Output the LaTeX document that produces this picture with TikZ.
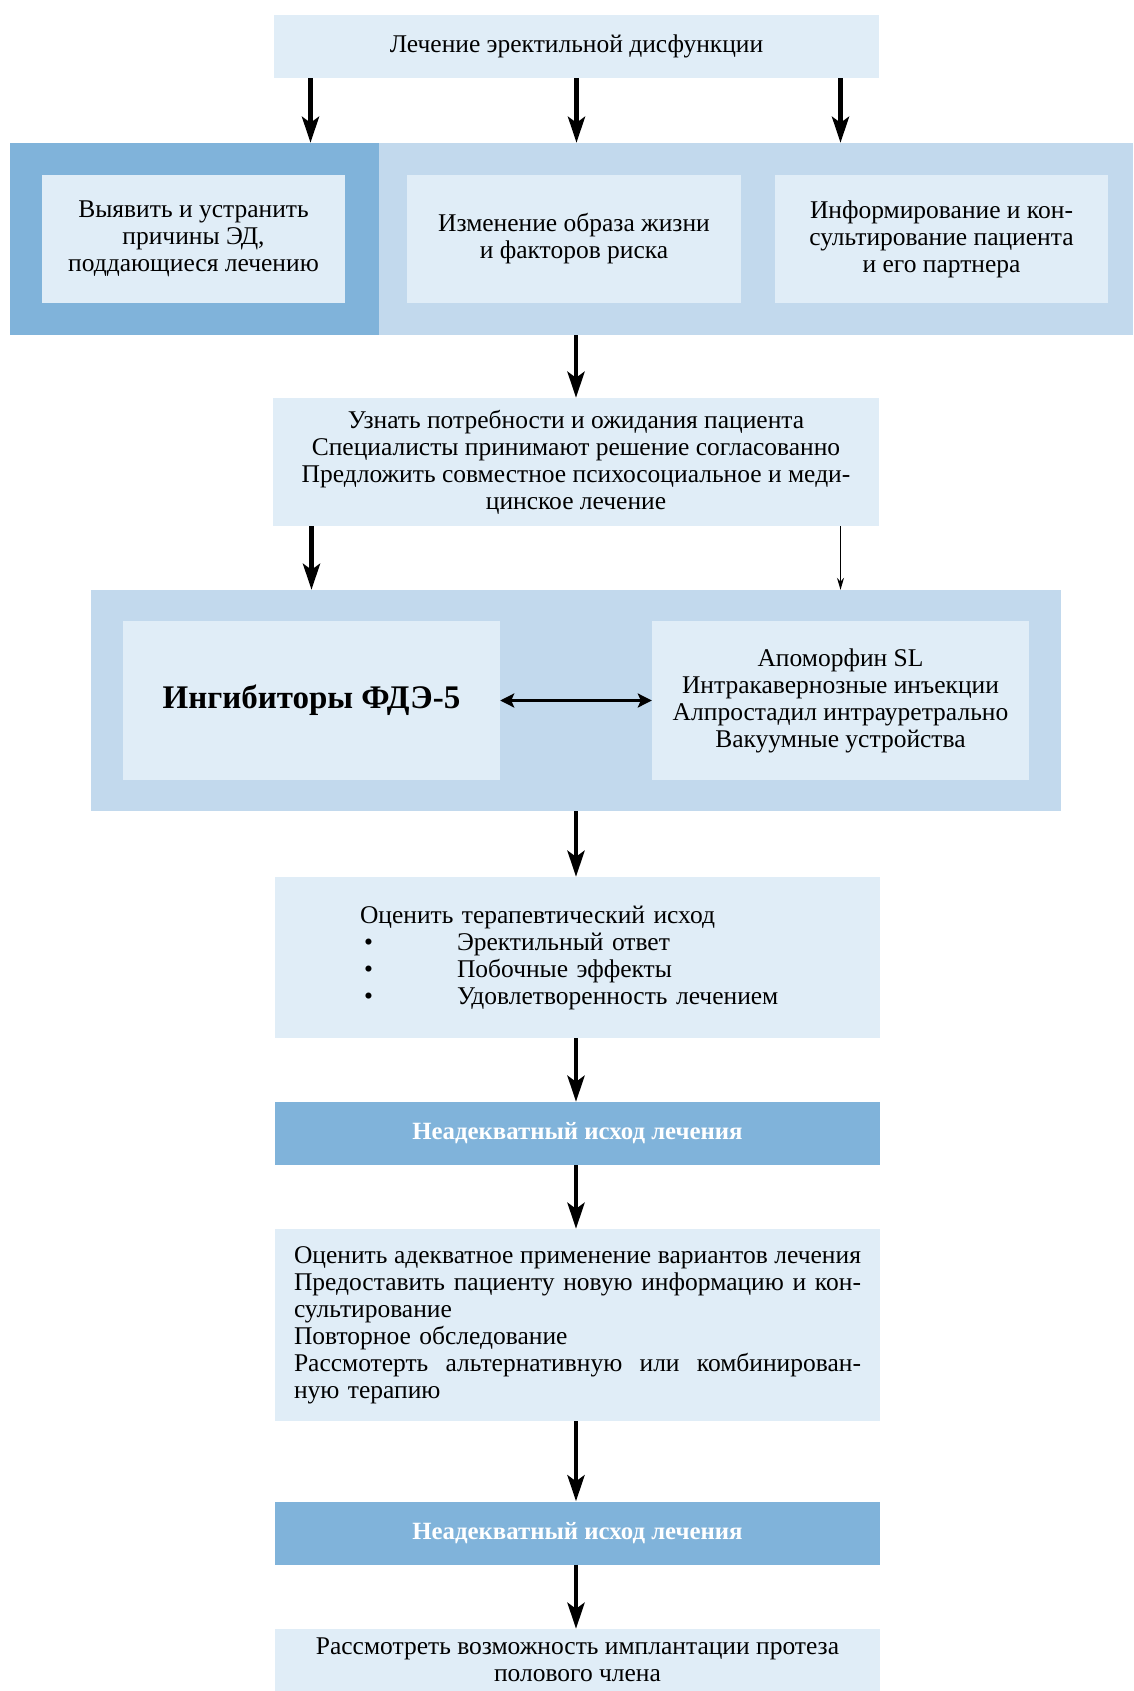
\documentclass[tikz,border=0pt]{standalone}
\usepackage{fontspec}
\setmainfont{Liberation Serif}
\usetikzlibrary{arrows.meta,positioning}
\definecolor{boxlight}{HTML}{E0EDF7}
\definecolor{boxmid}{HTML}{C2D9ED}
\definecolor{boxdark}{HTML}{80B3DA}
\newcommand{\fullline}[1]{\makebox[567pt][s]{\spaceskip=0pt\xspaceskip=0pt\relax #1}}

\begin{document}
\begin{tikzpicture}[
                    x=1pt, y=-1pt,
                    every node/.style={
                        inner sep=0pt,
                        font=\fontsize{25.5}{27}\selectfont
                    },
                    lightbox/.style={fill=boxlight, align=center},
                    darkbar/.style={fill=boxdark, text=white, minimum width=605pt, minimum height=63pt,
                        font=\fontsize{24.8}{27}\selectfont\bfseries},
                    bigarrow/.style={line width=4.5pt, -{Stealth[length=26pt,width=17pt,inset=6pt]}},
                    thinarrow/.style={line width=1.2pt, -{Stealth[length=12pt,width=7pt]}},
                    botharrow/.style={line width=3.5pt, {Stealth[length=14pt,width=14pt,inset=3pt]}-{Stealth[length=14pt,width=14pt,inset=3pt]}}
                ]
                    \useasboundingbox (0,0) rectangle (1133,1691);
                    \clip (0,0) rectangle (1133,1691);

                    \node[lightbox, minimum width=605pt, minimum height=63pt] (top) at (576.5,46.5) {Лечение эректильной дисфункции};

                    % first band
                    \node[fill=boxdark, minimum width=369pt, minimum height=192pt] (bandl) at (194.5,239) {};
                    \node[fill=boxmid, minimum width=754pt, minimum height=192pt] (bandr) at (756,239) {};
                    \node[lightbox, minimum width=303pt, minimum height=128pt] (causes) at (193.5,239) {Выявить и устранить\\причины ЭД,\\поддающиеся лечению};
                    \node[lightbox, minimum width=334pt, minimum height=128pt] (life) at (574,239) {Изменение образа жизни\\и факторов риска};
                    \node[lightbox, minimum width=333pt, minimum height=128pt] (inform) at (941.5,239) {Информирование и кон-\\сультирование пациента\\и его партнера};

                    \node[lightbox, minimum width=606pt, minimum height=128pt] (needs) at (576,462) {Узнать потребности и ожидания пациента\\Специалисты принимают решение согласованно\\Предложить совместное психосоциальное и меди-\\цинское лечение};

                    % second band
                    \node[fill=boxmid, minimum width=970pt, minimum height=221pt] (therapy) at (576,700.5) {};
                    \node[lightbox, minimum width=377pt, minimum height=159pt,
                          font=\fontsize{33}{38}\selectfont\bfseries] (pde5) at (311.5,700.5) {Ингибиторы ФДЭ-5};
                    \node[lightbox, minimum width=377pt, minimum height=159pt] (others) at (840.5,700.5) {Апоморфин SL\\Интракавернозные инъекции\\Алпростадил интрауретрально\\Вакуумные устройства};

                    \node[lightbox, align=left, minimum width=605pt, minimum height=161pt, text width=435pt] (outcome) at (577.5,957.5) {Оценить терапевтический исход\\
                        \hspace*{4pt}\makebox[93pt][l]{•}Эректильный ответ\\
                        \hspace*{4pt}\makebox[93pt][l]{•}Побочные эффекты\\
                        \hspace*{4pt}\makebox[93pt][l]{•}Удовлетворенность лечением};

                    \node[darkbar] (fail1) at (577.5,1133.5) {Неадекватный исход лечения};

                    \node[lightbox, align=left, minimum width=605pt, minimum height=192pt, text width=567pt] (review) at (577.5,1325) {\fullline{Оценить адекватное применение вариантов лечения}\\
                        \fullline{Предоставить пациенту новую информацию и кон-}\\
                        сультирование\\
                        Повторное обследование\\
                        \fullline{Рассмотерть альтернативную или комбинирован-}\\
                        ную терапию};

                    \node[darkbar] (fail2) at (577.5,1533) {Неадекватный исход лечения};

                    \node[lightbox, minimum width=605pt, minimum height=62pt] (implant) at (577.5,1660) {Рассмотреть возможность имплантации протеза\\полового члена};

                    % Edges
                    \draw[bigarrow] ([xshift=-266pt]top.south) -- ([xshift=-266pt]top.south |- bandl.north);
                    \draw[bigarrow] (top.south) -- (top.south |- bandr.north);
                    \draw[bigarrow] ([xshift=264pt]top.south) -- ([xshift=264pt]top.south |- bandr.north);
                    \draw[bigarrow] (needs.north |- bandr.south) -- (needs.north);
                    \draw[bigarrow] (needs.south -| pde5.north) -- (pde5.north |- therapy.north);
                    \draw[thinarrow] (needs.south -| others.north) -- (others.north |- therapy.north);
                    \draw[botharrow] (pde5.east) -- (others.west);
                    \draw[bigarrow] (therapy.south) -- (therapy.south |- outcome.north);
                    \draw[bigarrow] (therapy.south |- outcome.south) -- (therapy.south |- fail1.north);
                    \draw[bigarrow] (therapy.south |- fail1.south) -- (therapy.south |- review.north);
                    \draw[bigarrow] (therapy.south |- review.south) -- (therapy.south |- fail2.north);
                    \draw[bigarrow] (therapy.south |- fail2.south) -- (therapy.south |- implant.north);
                \end{tikzpicture}
\end{document}
